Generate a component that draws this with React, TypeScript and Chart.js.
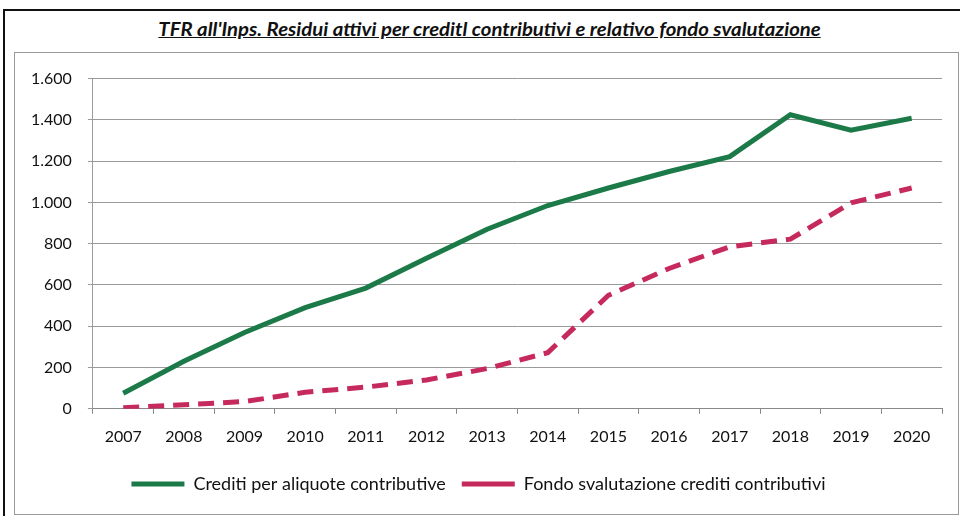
import React, { useEffect, useRef } from "react";
import { Chart, registerables } from "chart.js";

Chart.register(...registerables);

const years = ["2007","2008","2009","2010","2011","2012","2013","2014","2015","2016","2017","2018","2019","2020"];
const crediti = [75, 230, 370, 490, 585, 730, 870, 985, 1070, 1150, 1222, 1425, 1350, 1408];
const fondo = [5, 20, 35, 80, 105, 140, 195, 272, 550, 680, 785, 822, 998, 1070];
const yTicks = [0, 200, 400, 600, 800, 1000, 1200, 1400, 1600];

const titleText = "TFR all'Inps. Residui attivi per creditl contributivi e relativo fondo svalutazione";
const seriesNames = ["Crediti per aliquote contributive", "Fondo svalutazione crediti contributivi"];

const fmt = (v: number) => String(v).replace(/\B(?=(\d{3})+(?!\d))/g, ".");

export default function App() {
  const ref = useRef<HTMLCanvasElement>(null);
  useEffect(() => {
    if (!ref.current) return;
    const font = { family: "Lato", size: 16 };
    const chart = new Chart(ref.current, {
      type: "line",
      data: {
        labels: years,
        datasets: [
          {
            label: seriesNames[0],
            data: crediti,
            borderColor: "#1b7a47",
            backgroundColor: "#1b7a47",
            borderWidth: 5,
            pointRadius: 0,
            tension: 0,
          },
          {
            label: seriesNames[1],
            data: fondo,
            borderColor: "#c62a5c",
            backgroundColor: "#c62a5c",
            borderWidth: 5,
            borderDash: [16, 9],
            pointRadius: 0,
            tension: 0,
          },
        ],
      },
      options: {
        animation: false,
        responsive: false,
        maintainAspectRatio: false,
        layout: { padding: { left: 0, right: 15, top: 24, bottom: 10 } },
        plugins: {
          title: { display: false },
          tooltip: { enabled: false },
          legend: {
            position: "bottom",
            labels: {
              font: { family: "Lato", size: 18 },
              color: "#111",
              usePointStyle: true,
              pointStyle: "line",
              pointStyleWidth: 53,
              boxHeight: 15,
              padding: 16,
            },
          },
        },
        scales: {
          x: {
            offset: true,
            grid: { offset: true, drawOnChartArea: false, drawTicks: true, tickLength: 5, color: "#888" },
            border: { display: true, color: "#888" },
            ticks: { font, color: "#111", padding: 13, maxRotation: 0 },
          },
          y: {
            min: 0,
            max: 1600,
            afterBuildTicks: (axis: any) => {
              axis.ticks = yTicks.map((v) => ({ value: v }));
            },
            grid: { color: "#9a9a9a", drawTicks: true, tickLength: 5 },
            border: { display: true, color: "#9a9a9a" },
            ticks: { font, color: "#111", padding: 16, callback: (v: any) => fmt(Number(v)) },
          },
        },
      },
    });
    return () => chart.destroy();
  }, []);

  return (
    <div style={{ position: "fixed", left: 0, top: 0, width: 960, height: 516, background: "#fff", overflow: "hidden" }}>
      <div style={{ position: "absolute", left: 3, top: 9, width: 957, height: 2, background: "#111" }} />
      <div style={{ position: "absolute", left: 3, top: 9, width: 2, height: 507, background: "#111" }} />
      <div
        style={{
          position: "absolute",
          left: 0,
          width: 980,
          top: 17,
          textAlign: "center",
          fontFamily: "Lato",
          fontStyle: "italic",
          fontWeight: 700,
          fontSize: 19,
          color: "#111",
          whiteSpace: "nowrap",
        }}
      >
        <span style={{ display: "inline-block", textDecoration: "underline", transform: "scaleX(1.07)" }}>{titleText}</span>
      </div>
      <div style={{ position: "absolute", left: 14, top: 52, width: 943, height: 461, border: "1px solid #9a9a9a" }} />
      <canvas ref={ref} width={942} height={460} style={{ position: "absolute", left: 15, top: 53 }} />
    </div>
  );
}
